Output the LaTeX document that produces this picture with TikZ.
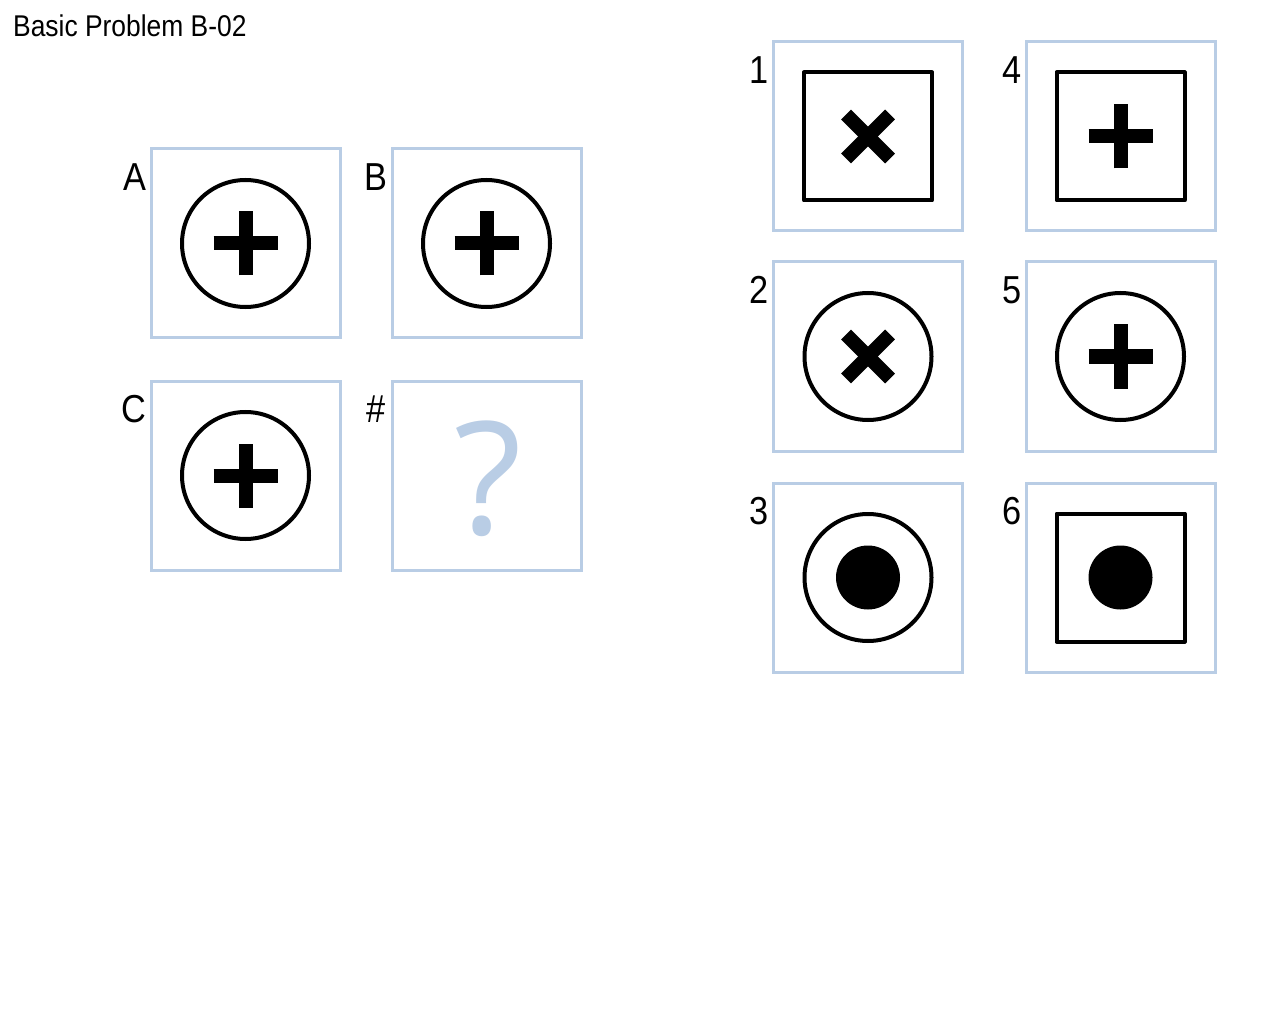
\documentclass[tikz,border=0pt]{standalone}
\usepackage{fontspec}
\newfontfamily\lbl[FakeStretch=0.88]{Liberation Sans}
\newfontfamily\qfont{Open Sans}
\definecolor{frameblue}{RGB}{185,205,229}
\begin{document}
\begin{tikzpicture}[x=1pt,y=-1pt,
  cell/.style={draw=frameblue,line width=3pt,fill=white,minimum size=189pt,inner sep=0pt,shape=rectangle},
  lab/.style={anchor=base east,inner sep=0pt,font=\lbl\fontsize{39}{39}\selectfont},
  ring/.style={draw=black,line width=4pt},
  bar/.style={line width=14pt,line cap=butt}
]
\useasboundingbox[fill=white] (0,0) rectangle (1280,1024);
\node[anchor=base west,inner sep=0pt,font=\lbl\fontsize{30}{30}\selectfont] (title) at (13,37) {Basic Problem B-02};

% matrix cells
\node[cell] (A) at (245.5,243.5) {};
\node[cell] (B) at (486.5,243.5) {};
\node[cell] (C) at (245.5,475.5) {};
\node[cell] (Q) at (486.5,475.5) {};
\node[lab] (lA) at ([xshift=-3pt,yshift=-43pt]A.north west) {A};
\node[lab] (lB) at ([xshift=-3pt,yshift=-43pt]B.north west) {B};
\node[lab] (lC) at ([xshift=-3pt,yshift=-43pt]C.north west) {C};
\node[lab] (lQ) at ([xshift=-5pt,yshift=-43pt]Q.north west) {\#};

% answer cells
\node[cell] (a1) at (868,136.5) {};
\node[cell] (a4) at (1120.5,136.5) {};
\node[cell] (a2) at (868,356.5) {};
\node[cell] (a5) at (1120.5,356.5) {};
\node[cell] (a3) at (868,577.5) {};
\node[cell] (a6) at (1120.5,577.5) {};
\foreach \n in {1,...,6}{
  \node[lab] (l\n) at ([xshift=-3pt,yshift=-43pt]a\n.north west) {\n};
}

% plus in circle: A, B, C, 5
\foreach \c in {A,B,C,a5}{
  \draw[ring] (\c.center) circle (63.5);
  \draw[bar] ([xshift=-32pt]\c.center) -- ([xshift=32pt]\c.center);
  \draw[bar] ([yshift=-32pt]\c.center) -- ([yshift=32pt]\c.center);
}
% question mark
\node[anchor=base,inner sep=0pt,text=frameblue,font=\qfont\fontsize{157}{157}\selectfont] (qm) at ([xshift=2pt,yshift=-59pt]Q.center) {?};

% 1: square with x
\draw[ring,line join=round] ([shift={(-64,-64)}]a1.center) rectangle ([shift={(64,64)}]a1.center);
\draw[bar] ([shift={(-22,-22)}]a1.center) -- ([shift={(22,22)}]a1.center);
\draw[bar] ([shift={(-22,22)}]a1.center) -- ([shift={(22,-22)}]a1.center);
% 4: square with plus
\draw[ring,line join=round] ([shift={(-64,-64)}]a4.center) rectangle ([shift={(64,64)}]a4.center);
\draw[bar] ([xshift=-32pt]a4.center) -- ([xshift=32pt]a4.center);
\draw[bar] ([yshift=-32pt]a4.center) -- ([yshift=32pt]a4.center);
% 2: circle with x
\draw[ring] (a2.center) circle (63.5);
\draw[bar] ([shift={(-22,-22)}]a2.center) -- ([shift={(22,22)}]a2.center);
\draw[bar] ([shift={(-22,22)}]a2.center) -- ([shift={(22,-22)}]a2.center);
% 3: circle with dot
\draw[ring] (a3.center) circle (63.5);
\fill (a3.center) circle (32);
% 6: square with dot
\draw[ring,line join=round] ([shift={(-64,-64)}]a6.center) rectangle ([shift={(64,64)}]a6.center);
\fill (a6.center) circle (32);
\end{tikzpicture}
\end{document}
